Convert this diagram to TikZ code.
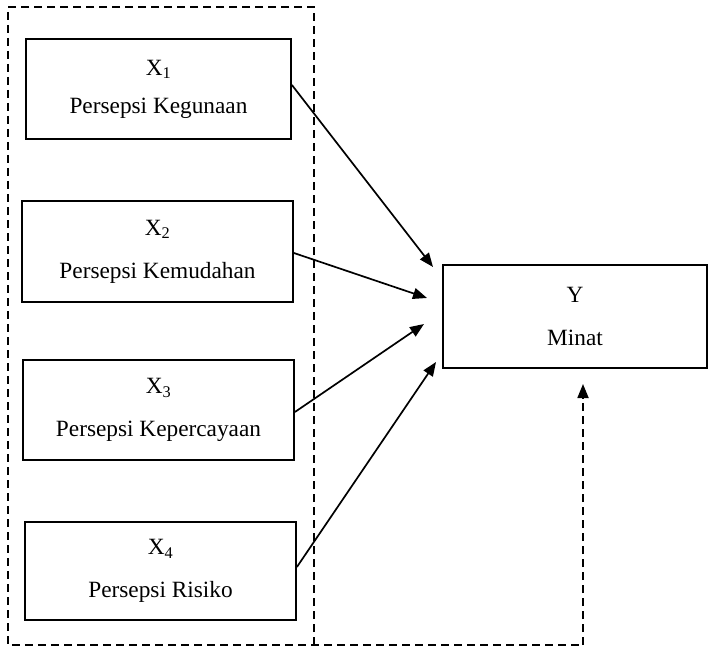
\documentclass[tikz,border=0pt]{standalone}
\usepackage{fontspec}
\setmainfont{Liberation Serif}
\usetikzlibrary{arrows.meta}
\tikzset{
  varbox/.style={draw=black, line width=1.8pt, inner sep=0pt, align=center,
    font=\fontsize{23.3}{43}\selectfont},
  tipstyle/.style={-{Triangle[length=14pt,width=11pt]}},
  conn/.style={line width=1.7pt, tipstyle},
  dashline/.style={line width=1.8pt, dash pattern=on 8pt off 5pt},
}
\begin{document}
\begin{tikzpicture}[x=1pt,y=-1pt]
\useasboundingbox (0,0) rectangle (708,647);
\node[varbox, minimum width=265pt, minimum height=100pt] (x1) at (158.5,89) {X\textsubscript{1}\\[-5pt]Persepsi Kegunaan};
\node[varbox, minimum width=271pt, minimum height=101pt] (x2) at (157.5,251.5) {X\textsubscript{2}\\Persepsi Kemudahan};
\node[varbox, minimum width=271pt, minimum height=100pt] (x3) at (158.5,410) {X\textsubscript{3}\\Persepsi Kepercayaan};
\node[varbox, minimum width=271pt, minimum height=98pt] (x4) at (160.5,571) {X\textsubscript{4}\\Persepsi Risiko};
\node[varbox, minimum width=264pt, minimum height=103pt] (y) at (575,316.5) {Y\\Minat};
% outer dashed frame
\coordinate (tl) at (8,7);
\coordinate (tr) at (314,7);
\coordinate (br) at (314,645);
\coordinate (bl) at (8,645);
\coordinate (bm) at (583,645);
\coordinate (ya) at (583,384);
\draw[dashline] (br) -- (tr) -- (tl) -- (bl) -- (bm);
\draw[dashline, tipstyle] (bm) -- (ya);
% arrow ends
\coordinate (e1) at (433,267);
\coordinate (e2) at (427,298);
\coordinate (e3) at (424,324);
\coordinate (e4) at (436,362);
\draw[conn] (x1.east |- 0,85) -- (e1);
\draw[conn] (x2.east |- 0,253) -- (e2);
\draw[conn] (x3.east |- 0,412) -- (e3);
\draw[conn] (x4.east |- 0,567) -- (e4);
\end{tikzpicture}
\end{document}
